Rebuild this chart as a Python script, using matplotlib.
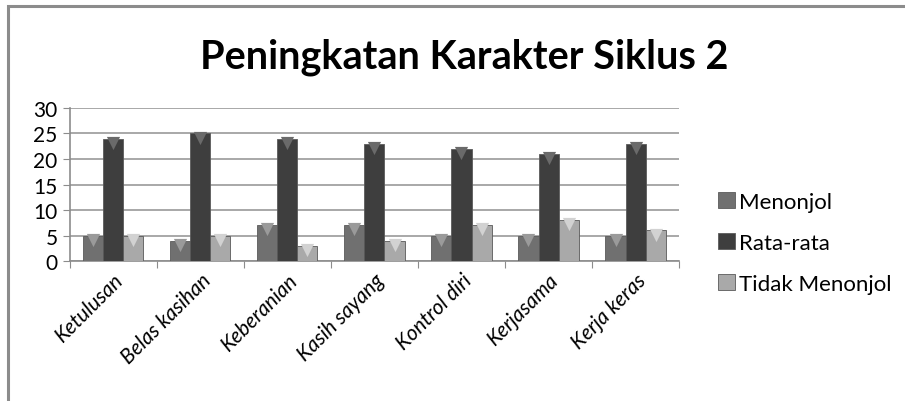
import matplotlib.pyplot as plt
import numpy as np
from matplotlib.patches import Rectangle

categories = ["Ketulusan", "Belas kasihan", "Keberanian", "Kasih sayang",
              "Kontrol diri", "Kerjasama", "Kerja keras"]
menonjol = [5, 4, 7, 7, 5, 5, 5]
rata_rata = [24, 25, 24, 23, 22, 21, 23]
tidak_menonjol = [5, 5, 3, 4, 7, 8, 6]
series_names = ["Menonjol", "Rata-rata", "Tidak Menonjol"]
y_ticks = [0, 5, 10, 15, 20, 25, 30]

colors = ["#707070", "#3e3e3e", "#a9a9a9"]
cap_colors = ["#9a9a9a", "#6a6a6a", "#d2d2d2"]

plt.rcParams["font.family"] = ["Lato", "DejaVu Sans"]

fig = plt.figure(figsize=(9.05, 4.02), dpi=100)
fig.patches.append(Rectangle((0.009, -0.01), 1.1, 0.993, transform=fig.transFigure,
                             fill=False, edgecolor="#8c8c8c", linewidth=2.2))

ax = fig.add_axes([0.0773, 0.348, 0.673, 0.381])
x = np.arange(len(categories))
width = 0.23
for i, (vals, c, cc) in enumerate(zip([menonjol, rata_rata, tidak_menonjol], colors, cap_colors)):
    pos = x + (i - 1) * width
    ax.bar(pos, vals, width=width, color=c, edgecolor="#5a5a5a", linewidth=0.6,
           label=series_names[i], zorder=3)
    ax.scatter(pos, np.array(vals) - 0.8, marker="v", s=90, color=cc, zorder=4, linewidths=0)

ax.set_xlim(-0.5, len(categories) - 0.5)
ax.set_ylim(0, 30)
ax.set_yticks(y_ticks)
ax.set_yticklabels([str(v) for v in y_ticks], fontsize=15)
ax.yaxis.grid(True, color="#9a9a9a", linewidth=1.2, zorder=0)
ax.set_xticks(np.arange(len(categories) + 1) - 0.5)
ax.set_xticklabels([])
ax.set_xticks(x, minor=True)
ax.set_xticklabels(categories, minor=True, rotation=45, ha="right",
                   rotation_mode="anchor", fontsize=15, style="italic")
ax.tick_params(axis="x", which="minor", length=0, pad=6)
ax.tick_params(axis="x", which="major", length=5, color="#8c8c8c")
ax.tick_params(axis="y", length=5, color="#8c8c8c", pad=4)
for s in ["top", "right"]:
    ax.spines[s].set_visible(False)
for s in ["left", "bottom"]:
    ax.spines[s].set_color("#8c8c8c")
    ax.spines[s].set_linewidth(1.2)

fig.text(0.513, 0.858, "Peningkatan Karakter Siklus 2", ha="center", va="center",
         fontsize=28.5, fontweight="bold")

leg = ax.legend(loc="center left", bbox_to_anchor=(1.05, 0.12), frameon=False,
                fontsize=16, handlelength=0.75, handleheight=0.75, handletextpad=0.2,
                labelspacing=0.95, borderaxespad=0)

fig.savefig("out.png", dpi=100)
